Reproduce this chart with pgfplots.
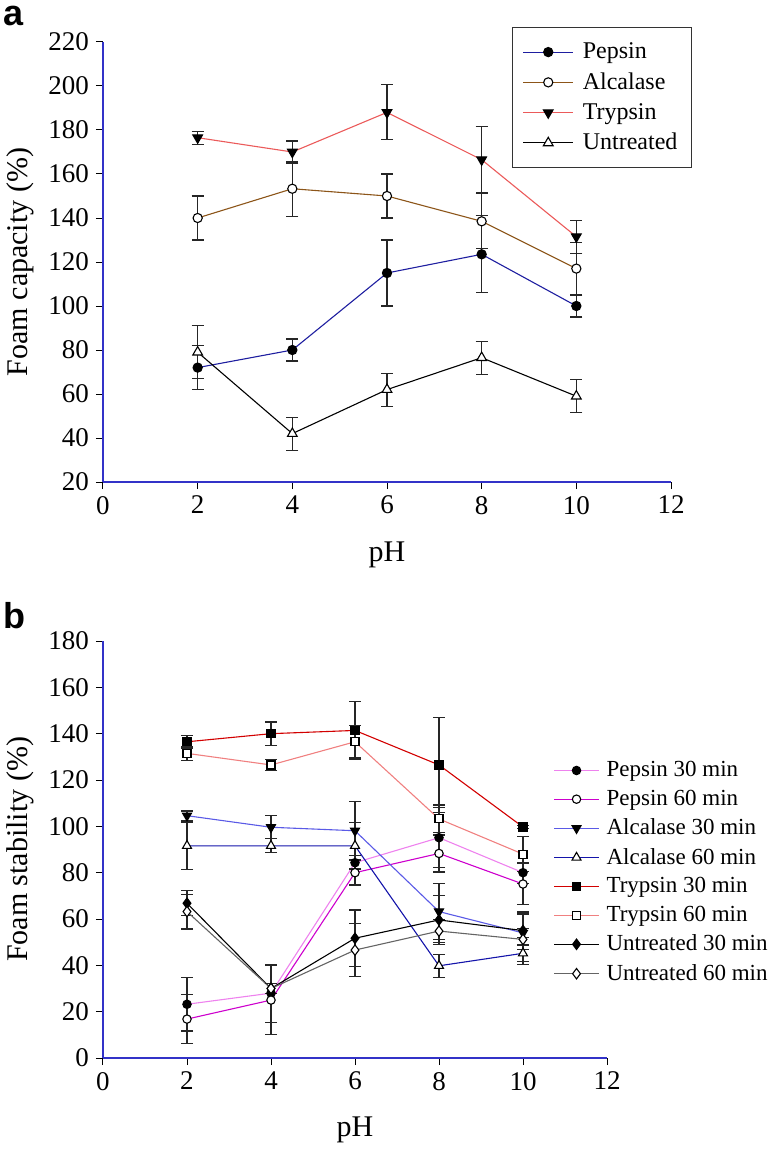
\documentclass[border=0pt]{standalone}
\usepackage{fontspec}
\setmainfont{Liberation Serif}
\newfontfamily\panelfont{Liberation Sans}
\usepackage{pgfplots}
\pgfplotsset{compat=1.18}
\definecolor{axisblue}{RGB}{50,50,200}
\definecolor{cpep}{RGB}{30,30,160}
\definecolor{calc}{RGB}{140,85,25}
\definecolor{ctry}{RGB}{235,90,90}
\definecolor{cpthirty}{RGB}{238,130,238}
\definecolor{cpsixty}{RGB}{205,0,205}
\definecolor{cathirty}{RGB}{90,90,230}
\definecolor{casixty}{RGB}{20,20,170}
\definecolor{ctthirty}{RGB}{210,0,0}
\definecolor{ctsixty}{RGB}{240,128,128}
\definecolor{cusixty}{RGB}{100,100,100}
\pgfplotsset{
  myaxis/.style={
    scale only axis,
    axis lines=left,
    axis line style={draw=axisblue, line width=0.6pt, -},
    tick style={black, line width=0.5pt},
    tick align=outside,
    major tick length=3.5pt,
    xmin=0, xmax=12, xtick={0,2,...,12},
    tick label style={font=\fontsize{13.5}{15}\selectfont},
    /pgf/number format/assume math mode=true,
    label style={font=\fontsize{15}{17}\selectfont},
    every axis plot/.append style={line width=0.55pt},
    error bars/y dir=both,
    error bars/y explicit,
    error bars/error bar style={black!85, line width=0.6pt, solid},
    error bars/error mark options={rotate=90, black!85, mark size=3pt, line width=0.6pt},
    legend cell align=left,
  },
}
\begin{document}
\begin{tikzpicture}
\useasboundingbox (0,0) rectangle (386.5pt,-575pt);
\node[font=\panelfont\bfseries\fontsize{18}{20}\selectfont, anchor=center] at (7pt,-8pt) {a};
\node[font=\panelfont\bfseries\fontsize{18}{20}\selectfont, anchor=center] at (7pt,-308pt) {b};
% ---------- panel a ----------
\begin{axis}[myaxis,
  at={(51.5pt,-21pt)}, anchor=north west,
  width=284pt, height=220pt,
  ymin=20, ymax=220, ytick={20,40,...,220},
  xlabel={pH}, ylabel={Foam capacity (\%)},
  xlabel style={at={(axis description cs:0.5,-0.166)}, anchor=center},
  ylabel style={at={(axis description cs:-0.146,0.5)}, anchor=center},
  legend style={at={(1.037,1.034)}, anchor=north east, draw=black!80, line width=0.6pt,
    font=\fontsize{12}{14}\selectfont, row sep=1.5pt, inner xsep=5pt, inner ysep=5.5pt,
    /tikz/every odd column/.append style={column sep=2.5pt}},
  legend image code/.code={\draw[mark repeat=2,mark phase=2,#1] plot coordinates {(0pt,0pt) (12.5pt,0pt) (25pt,0pt)};},
]
\addplot[cpep, mark=*, mark size=2.3pt, mark options={draw=black, fill=black, solid}]
  table[x=x, y=y, y error=e] {
x y e
2 72 10
4 80 5
6 115 15
8 123.5 17.5
10 100 5
};
\addlegendentry{Pepsin}
\addplot[calc, mark=*, mark size=2.3pt, mark options={draw=black, fill=white, solid}]
  table[x=x, y=y, y error=e] {
x y e
2 140 10
4 153.3 12.5
6 150 10
8 138.5 12.5
10 117 12
};
\addlegendentry{Alcalase}
\addplot[ctry, mark=triangle*, mark size=2.8pt, mark options={draw=black, fill=black, solid, rotate=180}]
  table[x=x, y=y, y error=e] {
x y e
2 176.5 3
4 170 5
6 188 12.5
8 166.5 15
10 131.5 7.5
};
\addlegendentry{Trypsin}
\addplot[black, mark=triangle*, mark size=2.8pt, mark options={draw=black, fill=white, solid}]
  table[x=x, y=y, y error=e] {
x y e
2 79 12
4 42 7.5
6 62 7.5
8 76.5 7.5
10 59 7.5
};
\addlegendentry{Untreated}
\end{axis}
% ---------- panel b ----------
\begin{axis}[myaxis,
  at={(51.5pt,-320.5pt)}, anchor=north west,
  width=252pt, height=208.5pt,
  ymin=0, ymax=180, ytick={0,20,...,180},
  xlabel={pH}, ylabel={Foam stability (\%)},
  xlabel style={at={(axis description cs:0.5,-0.173)}, anchor=center},
  ylabel style={at={(axis description cs:-0.165,0.5)}, anchor=center},
  legend style={at={(0.893,0.722)}, anchor=north west, draw=none, fill=none,
    font=\fontsize{11.5}{13}\selectfont, row sep=1.2pt, inner sep=0pt,
    /tikz/every odd column/.append style={column sep=1.5pt}},
  legend image code/.code={\draw[mark repeat=2,mark phase=2,#1] plot coordinates {(0pt,0pt) (11.25pt,0pt) (22.5pt,0pt)};},
]
\addplot[cpthirty, mark=*, mark size=2.1pt, mark options={draw=black, fill=black, solid}]
  table[x=x, y=y, y error=e] {
x y e
2 23.2 11.5
4 28 12.5
6 84.3 3
8 95.1 13
10 80 4.5
};
\addlegendentry{Pepsin 30 min}
\addplot[cpsixty, mark=*, mark size=2.1pt, mark options={draw=black, fill=white, solid}]
  table[x=x, y=y, y error=e] {
x y e
2 16.8 10.5
4 25 15
6 80 5.3
8 88.3 8
10 75.1 9
};
\addlegendentry{Pepsin 60 min}
\addplot[cathirty, mark=triangle*, mark size=2.6pt, mark options={draw=black, fill=black, solid, rotate=180}]
  table[x=x, y=y, y error=e] {
x y e
2 104.6 2
4 99.6 5
6 98.1 12.5
8 63.2 12.2
10 54 2
};
\addlegendentry{Alcalase 30 min}
\addplot[casixty, mark=triangle*, mark size=2.6pt, mark options={draw=black, fill=white, solid}]
  table[x=x, y=y, y error=e] {
x y e
2 91.6 10.3
4 91.6 3
6 91.6 10
8 39.8 5
10 45.2 3.6
};
\addlegendentry{Alcalase 60 min}
\addplot[ctthirty, mark=square*, mark size=2pt, mark options={draw=black, fill=black, solid}]
  table[x=x, y=y, y error=e] {
x y e
2 136.5 2.7
4 140 5
6 141.4 12.5
8 126.5 20.5
10 99.7 0.5
};
\addlegendentry{Trypsin 30 min}
\addplot[ctsixty, mark=square*, mark size=2pt, mark options={draw=black, fill=white, solid}]
  table[x=x, y=y, y error=e] {
x y e
2 131.5 3
4 126.5 2.5
6 136.5 7
8 103.2 6
10 88 7.5
};
\addlegendentry{Trypsin 60 min}
\addplot[black, mark=diamond*, mark size=2.6pt, mark options={draw=black, fill=black, solid}]
  table[x=x, y=y, y error=e] {
x y e
2 66.8 5.4
4 30 2
6 51.7 12.2
8 59.6 10.5
10 55 8
};
\addlegendentry{Untreated 30 min}
\addplot[cusixty, mark=diamond*, mark size=2.6pt, mark options={draw=black, fill=white, solid}]
  table[x=x, y=y, y error=e] {
x y e
2 63.2 7.5
4 30 2
6 46.6 11.4
8 54.8 5
10 51.2 11
};
\addlegendentry{Untreated 60 min}
\end{axis}
\end{tikzpicture}
\end{document}
